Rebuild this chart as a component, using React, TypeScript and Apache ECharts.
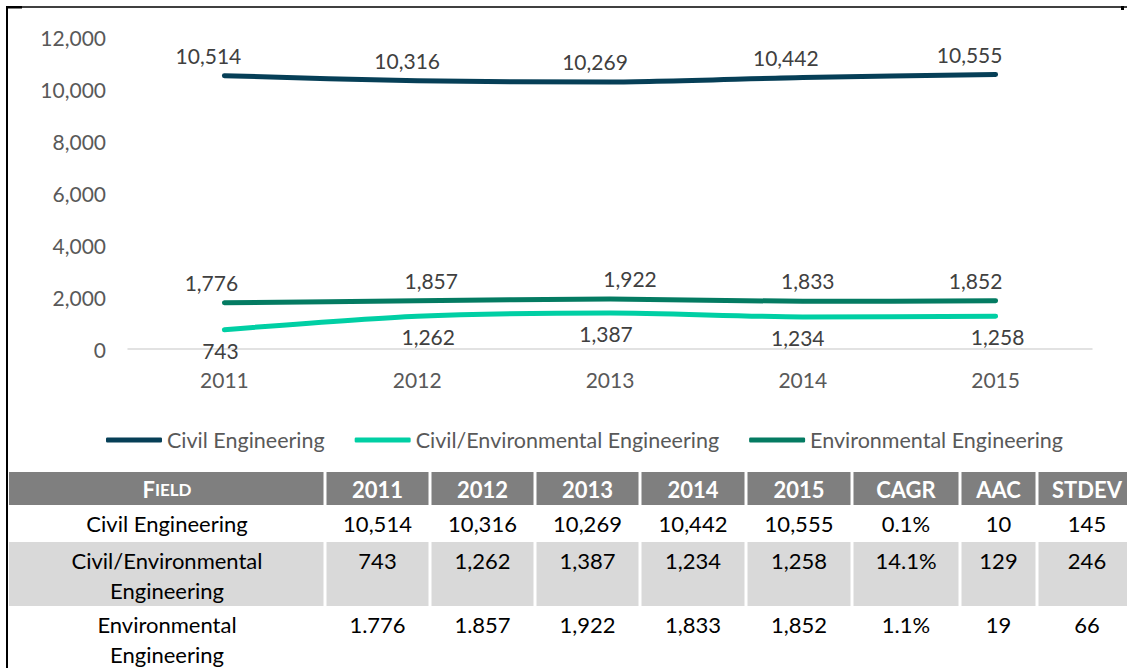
import React, { useEffect, useRef } from 'react';
import * as echarts from 'echarts';

const years = ['2011', '2012', '2013', '2014', '2015'];
const seriesNames = ['Civil Engineering', 'Civil/Environmental Engineering', 'Environmental Engineering'];
const civilValues = [10514, 10316, 10269, 10442, 10555];
const civilEnvValues = [743, 1262, 1387, 1234, 1258];
const envValues = [1776, 1857, 1922, 1833, 1852];
const yMin = 0;
const yMax = 12000;
const yInterval = 2000;

const tableHeaders = ['FIELD', '2011', '2012', '2013', '2014', '2015', 'CAGR', 'AAC', 'STDEV'];
const tableFieldLines = [
  ['Civil Engineering'],
  ['Civil/Environmental', 'Engineering'],
  ['Environmental', 'Engineering'],
];
const tableYearCells = [
  ['10,514', '10,316', '10,269', '10,442', '10,555'],
  ['743', '1,262', '1,387', '1,234', '1,258'],
  ['1.776', '1.857', '1,922', '1,833', '1,852'],
];
const tableCagr = ['0.1%', '14.1%', '1.1%'];
const tableAac = ['10', '129', '19'];
const tableStdev = ['145', '246', '66'];

// label nudges (layout only), in px, per series per point
const labelDx = [
  [-16, -10, -15, -17, -26],
  [-4, 11, -4, -5, 2],
  [-13, 14, 20, 5, -20],
];

const FONT = 'Lato';
const fmt = (v: number) => v.toLocaleString('en-US');

function buildTable(): any[] {
  const cols = [9, 325, 430, 535, 640, 746, 852, 960, 1037, 1137];
  const headerTop = 472;
  const headerH = 33;
  const rowTops = [505, 542, 606];
  const rowHeights = [37, 64, 62];
  const lineH = 30;
  const els: any[] = [];
  for (let i = 0; i < cols.length - 1; i++) {
    const x0 = cols[i] + (i === 0 ? 0 : 1.5);
    const w = cols[i + 1] - cols[i] - (i === 0 ? 1.5 : 3);
    els.push({ type: 'rect', shape: { x: x0, y: headerTop, width: w, height: headerH }, style: { fill: '#7f7f7f' }, silent: true });
    els.push({ type: 'rect', shape: { x: x0, y: rowTops[1], width: w, height: rowHeights[1] }, style: { fill: '#d9d9d9' }, silent: true });
  }
  tableHeaders.forEach((h, i) => {
    const cx = (cols[i] + cols[i + 1]) / 2;
    if (i === 0) {
      els.push({
        type: 'text', x: cx, y: headerTop + headerH / 2 + 1, silent: true,
        style: {
          text: '{a|' + h.slice(0, 1) + '}{b|' + h.slice(1) + '}',
          align: 'center', verticalAlign: 'middle',
          rich: {
            a: { fontSize: 22, fontWeight: 'bold', fontFamily: FONT, fill: '#ffffff' },
            b: { fontSize: 17, fontWeight: 'bold', fontFamily: FONT, fill: '#ffffff' },
          },
        },
      });
    } else {
      els.push({
        type: 'text', x: cx, y: headerTop + headerH / 2 + 1, silent: true,
        style: { text: h, fill: '#ffffff', fontSize: 22, fontWeight: 'bold', fontFamily: FONT, align: 'center', verticalAlign: 'middle' },
      });
    }
  });
  for (let r = 0; r < tableFieldLines.length; r++) {
    const y0 = rowTops[r] + 18;
    const cells = [...tableYearCells[r], tableCagr[r], tableAac[r], tableStdev[r]];
    tableFieldLines[r].forEach((line, li) => {
      els.push({
        type: 'text', x: (cols[0] + cols[1]) / 2, y: y0 + li * lineH, silent: true,
        style: { text: line, fill: '#000000', fontSize: 22, fontFamily: FONT, align: 'center', verticalAlign: 'middle' },
      });
    });
    cells.forEach((c, ci) => {
      els.push({
        type: 'text', x: (cols[ci + 1] + cols[ci + 2]) / 2, y: y0, silent: true,
        style: { text: c, fill: '#000000', fontSize: 22, fontFamily: FONT, align: 'center', verticalAlign: 'middle' },
      });
    });
  }
  els.push({ type: 'line', shape: { x1: 7, y1: 7, x2: 1127, y2: 7 }, style: { stroke: '#000', lineWidth: 1.5 }, silent: true });
  els.push({ type: 'line', shape: { x1: 7, y1: 6, x2: 7, y2: 668 }, style: { stroke: '#000', lineWidth: 2 }, silent: true });
  els.push({ type: 'rect', shape: { x: 6, y: 6, width: 16, height: 2.5 }, style: { fill: '#000' }, silent: true });
  els.push({ type: 'rect', shape: { x: 1121, y: 6, width: 3, height: 4 }, style: { fill: '#000' }, silent: true });
  return els;
}

export default function App() {
  const ref = useRef<HTMLDivElement>(null);
  useEffect(() => {
    if (!ref.current) return;
    const chart = echarts.init(ref.current, undefined, { renderer: 'svg' });
    const colors = ['#063f57', '#00cfa4', '#047b62'];
    const values = [civilValues, civilEnvValues, envValues];
    const positions = ['top', 'bottom', 'top'];
    chart.setOption({
      animation: false,
      backgroundColor: '#ffffff',
      textStyle: { fontFamily: FONT },
      grid: { left: 128, right: 35, top: 37, bottom: 319, containLabel: false },
      legend: {
        data: seriesNames,
        icon: 'roundRect',
        left: 101,
        top: 424,
        itemWidth: 56,
        itemHeight: 5,
        itemGap: 30,
        textStyle: { fontSize: 21.5, color: '#595959', fontFamily: FONT },
      },
      xAxis: {
        type: 'category',
        data: years,
        boundaryGap: true,
        axisLine: { show: true, lineStyle: { color: '#d9d9d9', width: 1.5 } },
        axisTick: { show: false },
        axisLabel: { color: '#595959', fontSize: 21, fontFamily: FONT, margin: 20 },
        splitLine: { show: false },
      },
      yAxis: {
        type: 'value',
        min: yMin,
        max: yMax,
        interval: yInterval,
        axisLine: { show: false },
        axisTick: { show: false },
        splitLine: { show: false },
        axisLabel: { color: '#595959', fontSize: 21, fontFamily: FONT, margin: 22, formatter: (v: number) => fmt(v) },
      },
      series: seriesNames.map((name, i) => ({
        name,
        type: 'line',
        data: values[i].map((v, j) => ({ value: v, label: { offset: [labelDx[i][j], 0] } })),
        smooth: 0.25,
        symbol: 'circle',
        symbolSize: 2,
        itemStyle: { color: colors[i] },
        lineStyle: { color: colors[i], width: 5, cap: 'round', join: 'round' },
        label: {
          show: true,
          position: positions[i],
          distance: 9,
          color: '#404040',
          fontSize: 21,
          fontFamily: FONT,
          formatter: (p: any) => fmt(p.value),
        },
      })),
      graphic: buildTable(),
    });
    return () => chart.dispose();
  }, []);
  return <div ref={ref} style={{ position: 'fixed', left: 0, top: 0, width: 1127, height: 668 }} />;
}
